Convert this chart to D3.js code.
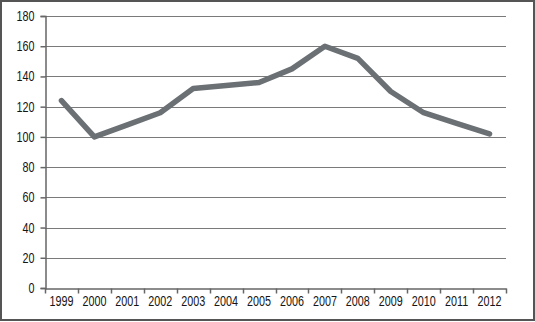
<!DOCTYPE html>
<html><head><meta charset="utf-8">
<script src="https://cdn.jsdelivr.net/npm/d3@7"></script>
<style>
html,body{margin:0;padding:0;background:#fff;}
text{font-family:"Liberation Sans","Arial",sans-serif;}
</style></head>
<body><svg id="c" width="535" height="322"></svg>
<script>
const years = ["1999","2000","2001","2002","2003","2004","2005","2006","2007","2008","2009","2010","2011","2012"];
const values = [124,100,108,116,132,134,136,145,160,152,130,116,109,102];
const yTicks = [0,20,40,60,80,100,120,140,160,180];

const svg = d3.select("#c");
const W = 535, H = 322;
const m = {left:45, right:29, top:16, bottom:34};
const x = d3.scaleBand().domain(years).range([m.left, W - m.right]);
const y = d3.scaleLinear().domain([0,180]).range([H - m.bottom, m.top]);
const FONT = "'Liberation Sans',Arial,sans-serif";
const SX = 0.77;

svg.append("rect").attr("x",1).attr("y",1).attr("width",W-2).attr("height",H-3)
  .attr("fill","#fff").attr("stroke","#555").attr("stroke-width",2);

// gridlines
svg.append("g").selectAll("line").data(yTicks.filter(d=>d>0)).join("line")
  .attr("x1",m.left).attr("x2",W-m.right)
  .attr("y1",d=>Math.round(y(d))+0.5).attr("y2",d=>Math.round(y(d))+0.5)
  .attr("stroke","#7a7a7a").attr("stroke-width",1.2);

// y axis
const ya = svg.append("g").attr("transform",`translate(${m.left+0.5},0)`)
  .call(d3.axisLeft(y).tickValues(yTicks).tickSize(5).tickPadding(6));
ya.select(".domain").attr("stroke","#666").attr("stroke-width",1.5);
ya.selectAll(".tick line").attr("stroke","#666").attr("stroke-width",1.5);
ya.selectAll("text").attr("font-size",14).attr("fill","#151515").style("font-family",FONT)
  .attr("x",-11/SX).attr("transform",`scale(${SX},1)`);

// x axis
const y0 = Math.round(y(0))+0.5;
const xa = svg.append("g").attr("transform",`translate(0,${y0})`)
  .call(d3.axisBottom(x).tickSize(0).tickPadding(8));
xa.select(".domain").attr("stroke","#666").attr("stroke-width",1.5);
xa.selectAll("text").attr("font-size",14).attr("fill","#151515").style("font-family",FONT)
  .attr("transform",`scale(${SX},1)`);
const bounds = years.map(d=>x(d)).concat([x(years[years.length-1])+x.bandwidth()]);
svg.append("g").selectAll("line").data(bounds).join("line")
  .attr("x1",d=>Math.round(d)+0.5).attr("x2",d=>Math.round(d)+0.5)
  .attr("y1",y0).attr("y2",y0+5)
  .attr("stroke","#666").attr("stroke-width",1.5);

// line
const line = d3.line().x((d,i)=>x(years[i])+x.bandwidth()/2).y(d=>y(d));
svg.append("path").datum(values).attr("d",line)
  .attr("fill","none").attr("stroke","#6b7075").attr("stroke-width",5.5)
  .attr("stroke-linejoin","round").attr("stroke-linecap","round");
</script></body></html>
